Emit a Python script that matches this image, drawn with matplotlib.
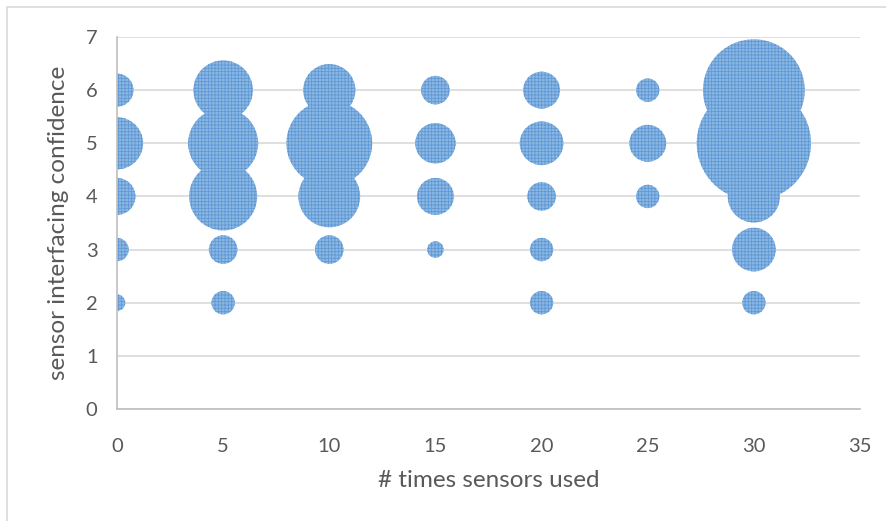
import numpy as np
import matplotlib
matplotlib.use('Agg')
import matplotlib.pyplot as plt
from matplotlib.patches import Rectangle

# bubble data: times used, confidence, number of responses
times_used = [0, 0, 0, 0, 0,
              5, 5, 5, 5, 5,
              10, 10, 10, 10,
              15, 15, 15, 15,
              20, 20, 20, 20, 20,
              25, 25, 25,
              30, 30, 30, 30, 30]
confidence = [2, 3, 4, 5, 6,
              2, 3, 4, 5, 6,
              3, 4, 5, 6,
              3, 4, 5, 6,
              2, 3, 4, 5, 6,
              4, 5, 6,
              2, 3, 4, 5, 6]
counts = [1, 2, 5, 10, 4,
          2, 3, 17, 18, 13,
          3, 14, 27, 10,
          1, 5, 6, 3,
          2, 2, 3, 7, 5,
          2, 5, 2,
          2, 7, 10, 48, 38]

x_ticks = [0, 5, 10, 15, 20, 25, 30, 35]
y_ticks = [0, 1, 2, 3, 4, 5, 6, 7]

fnt = 14.5
txt_col = '#595959'
plt.rcParams['font.family'] = ['Lato', 'DejaVu Sans']
plt.rcParams['hatch.linewidth'] = 0.6

fig = plt.figure(figsize=(8.87, 5.21), dpi=100)
ax = fig.add_axes([117/887, 1-409/521, (860-117)/887, (409-37)/521])

# chart border
fig.patches.append(Rectangle((7/887, -0.1), 1.2, 1-7/521+0.1, transform=fig.transFigure,
                             fill=False, edgecolor='#D9D9D9', lw=1.2))

unit_d = 16.5 * 72 / 100  # diameter (pt) of a one-response bubble
sizes = np.array(counts) * unit_d**2
ax.scatter(times_used, confidence, s=sizes, facecolor='#8CB7E4', edgecolor='#5F99D4',
           linewidth=0, hatch='+++++', zorder=3)

ax.set_xlim(0, 35)
ax.set_ylim(0, 7)
ax.set_xticks(x_ticks)
ax.set_yticks(y_ticks)
ax.grid(axis='y', color='#D9D9D9', lw=1.2, zorder=0)
ax.set_axisbelow(True)
for s in ['top', 'right']:
    ax.spines[s].set_visible(False)
for s in ['left', 'bottom']:
    ax.spines[s].set_color('#BFBFBF')
    ax.spines[s].set_linewidth(1.2)
    ax.spines[s].set_zorder(4)
ax.tick_params(length=0, labelsize=fnt, labelcolor=txt_col)
ax.tick_params(axis='x', pad=21)
ax.tick_params(axis='y', pad=14)

ax.set_xlabel('# times sensors used', fontsize=17.5, color=txt_col, labelpad=11)
ax.set_ylabel('sensor interfacing confidence', fontsize=17.5, color=txt_col, labelpad=12)

fig.savefig('out.png', dpi=100)
